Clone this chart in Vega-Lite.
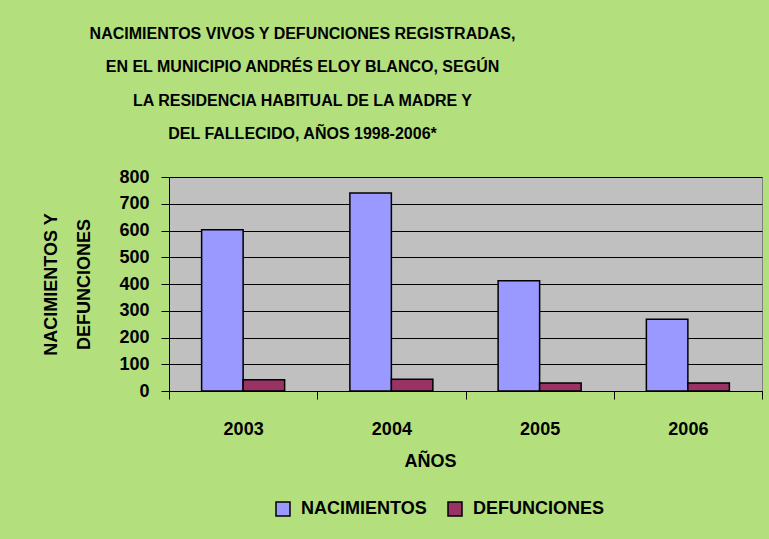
{
  "$schema": "https://vega.github.io/schema/vega-lite/v6.json",
  "autosize": {"type": "none"},
  "width": 593,
  "height": 214,
  "padding": {"left": 169, "top": 177, "right": 7, "bottom": 148},
  "background": "#B3E07C",
  "title": {
    "text": ["NACIMIENTOS VIVOS Y DEFUNCIONES REGISTRADAS,", "EN EL MUNICIPIO ANDRÉS ELOY BLANCO, SEGÚN", "LA RESIDENCIA HABITUAL DE LA MADRE Y", "DEL FALLECIDO, AÑOS 1998-2006*"],
    "anchor": "middle",
    "frame": "group",
    "dx": -163,
    "offset": 26,
    "fontSize": 16,
    "lineHeight": 33.5,
    "font": "Liberation Sans, Arial, sans-serif",
    "fontWeight": "bold",
    "color": "#000000"
  },
  "data": {
    "values": [
      {"year": "2003", "serie": "NACIMIENTOS", "value": 603},
      {"year": "2003", "serie": "DEFUNCIONES", "value": 42},
      {"year": "2004", "serie": "NACIMIENTOS", "value": 740},
      {"year": "2004", "serie": "DEFUNCIONES", "value": 44},
      {"year": "2005", "serie": "NACIMIENTOS", "value": 412},
      {"year": "2005", "serie": "DEFUNCIONES", "value": 30},
      {"year": "2006", "serie": "NACIMIENTOS", "value": 268},
      {"year": "2006", "serie": "DEFUNCIONES", "value": 30}
    ]
  },
  "mark": {"type": "bar", "stroke": "#000000", "strokeWidth": 1.5},
  "encoding": {
    "x": {
      "field": "year",
      "type": "nominal",
      "scale": {"paddingInner": 0, "paddingOuter": 0},
      "axis": {
        "title": "AÑOS",
        "labelAngle": 0,
        "tickBand": "extent",
        "tickSize": 8,
        "labelPadding": 21,
        "titlePadding": 14,
        "titleX": 261,
        "titleAlign": "center",
        "grid": false
      }
    },
    "xOffset": {
      "field": "serie",
      "type": "nominal",
      "sort": ["NACIMIENTOS", "DEFUNCIONES"],
      "scale": {"paddingInner": 0, "paddingOuter": 0.786}
    },
    "y": {
      "field": "value",
      "type": "quantitative",
      "scale": {"domain": [0, 800], "nice": false},
      "axis": {
        "title": ["NACIMIENTOS Y", "DEFUNCIONES"],
        "values": [0, 100, 200, 300, 400, 500, 600, 700, 800],
        "tickSize": 8,
        "labelPadding": 12,
        "titlePadding": 25,
        "titleLineHeight": 33,
        "grid": true,
        "gridColor": "#000000",
        "gridOpacity": 1,
        "gridWidth": 1
      }
    },
    "color": {
      "field": "serie",
      "type": "nominal",
      "sort": ["NACIMIENTOS", "DEFUNCIONES"],
      "scale": {"domain": ["NACIMIENTOS", "DEFUNCIONES"], "range": ["#9999FF", "#993366"]},
      "legend": {
        "title": null,
        "orient": "none",
        "direction": "horizontal",
        "legendX": 105,
        "legendY": 323,
        "symbolType": "square",
        "symbolSize": 196,
        "symbolStrokeColor": "#000000",
        "symbolStrokeWidth": 1.5,
        "symbolOpacity": 1,
        "labelFontSize": 18,
        "labelFont": "Liberation Sans, Arial, sans-serif",
        "labelFontWeight": "bold",
        "labelColor": "#000000",
        "labelOffset": 9,
        "columnPadding": 18
      }
    }
  },
  "config": {
    "view": {"fill": "#C0C0C0", "stroke": "#808080", "strokeWidth": 1},
    "axis": {
      "domainColor": "#000000",
      "domainWidth": 1,
      "tickColor": "#000000",
      "tickWidth": 1,
      "labelFont": "Liberation Sans, Arial, sans-serif",
      "labelFontSize": 18,
      "labelFontWeight": "bold",
      "labelColor": "#000000",
      "titleFont": "Liberation Sans, Arial, sans-serif",
      "titleFontSize": 18,
      "titleFontWeight": "bold",
      "titleColor": "#000000"
    }
  }
}
